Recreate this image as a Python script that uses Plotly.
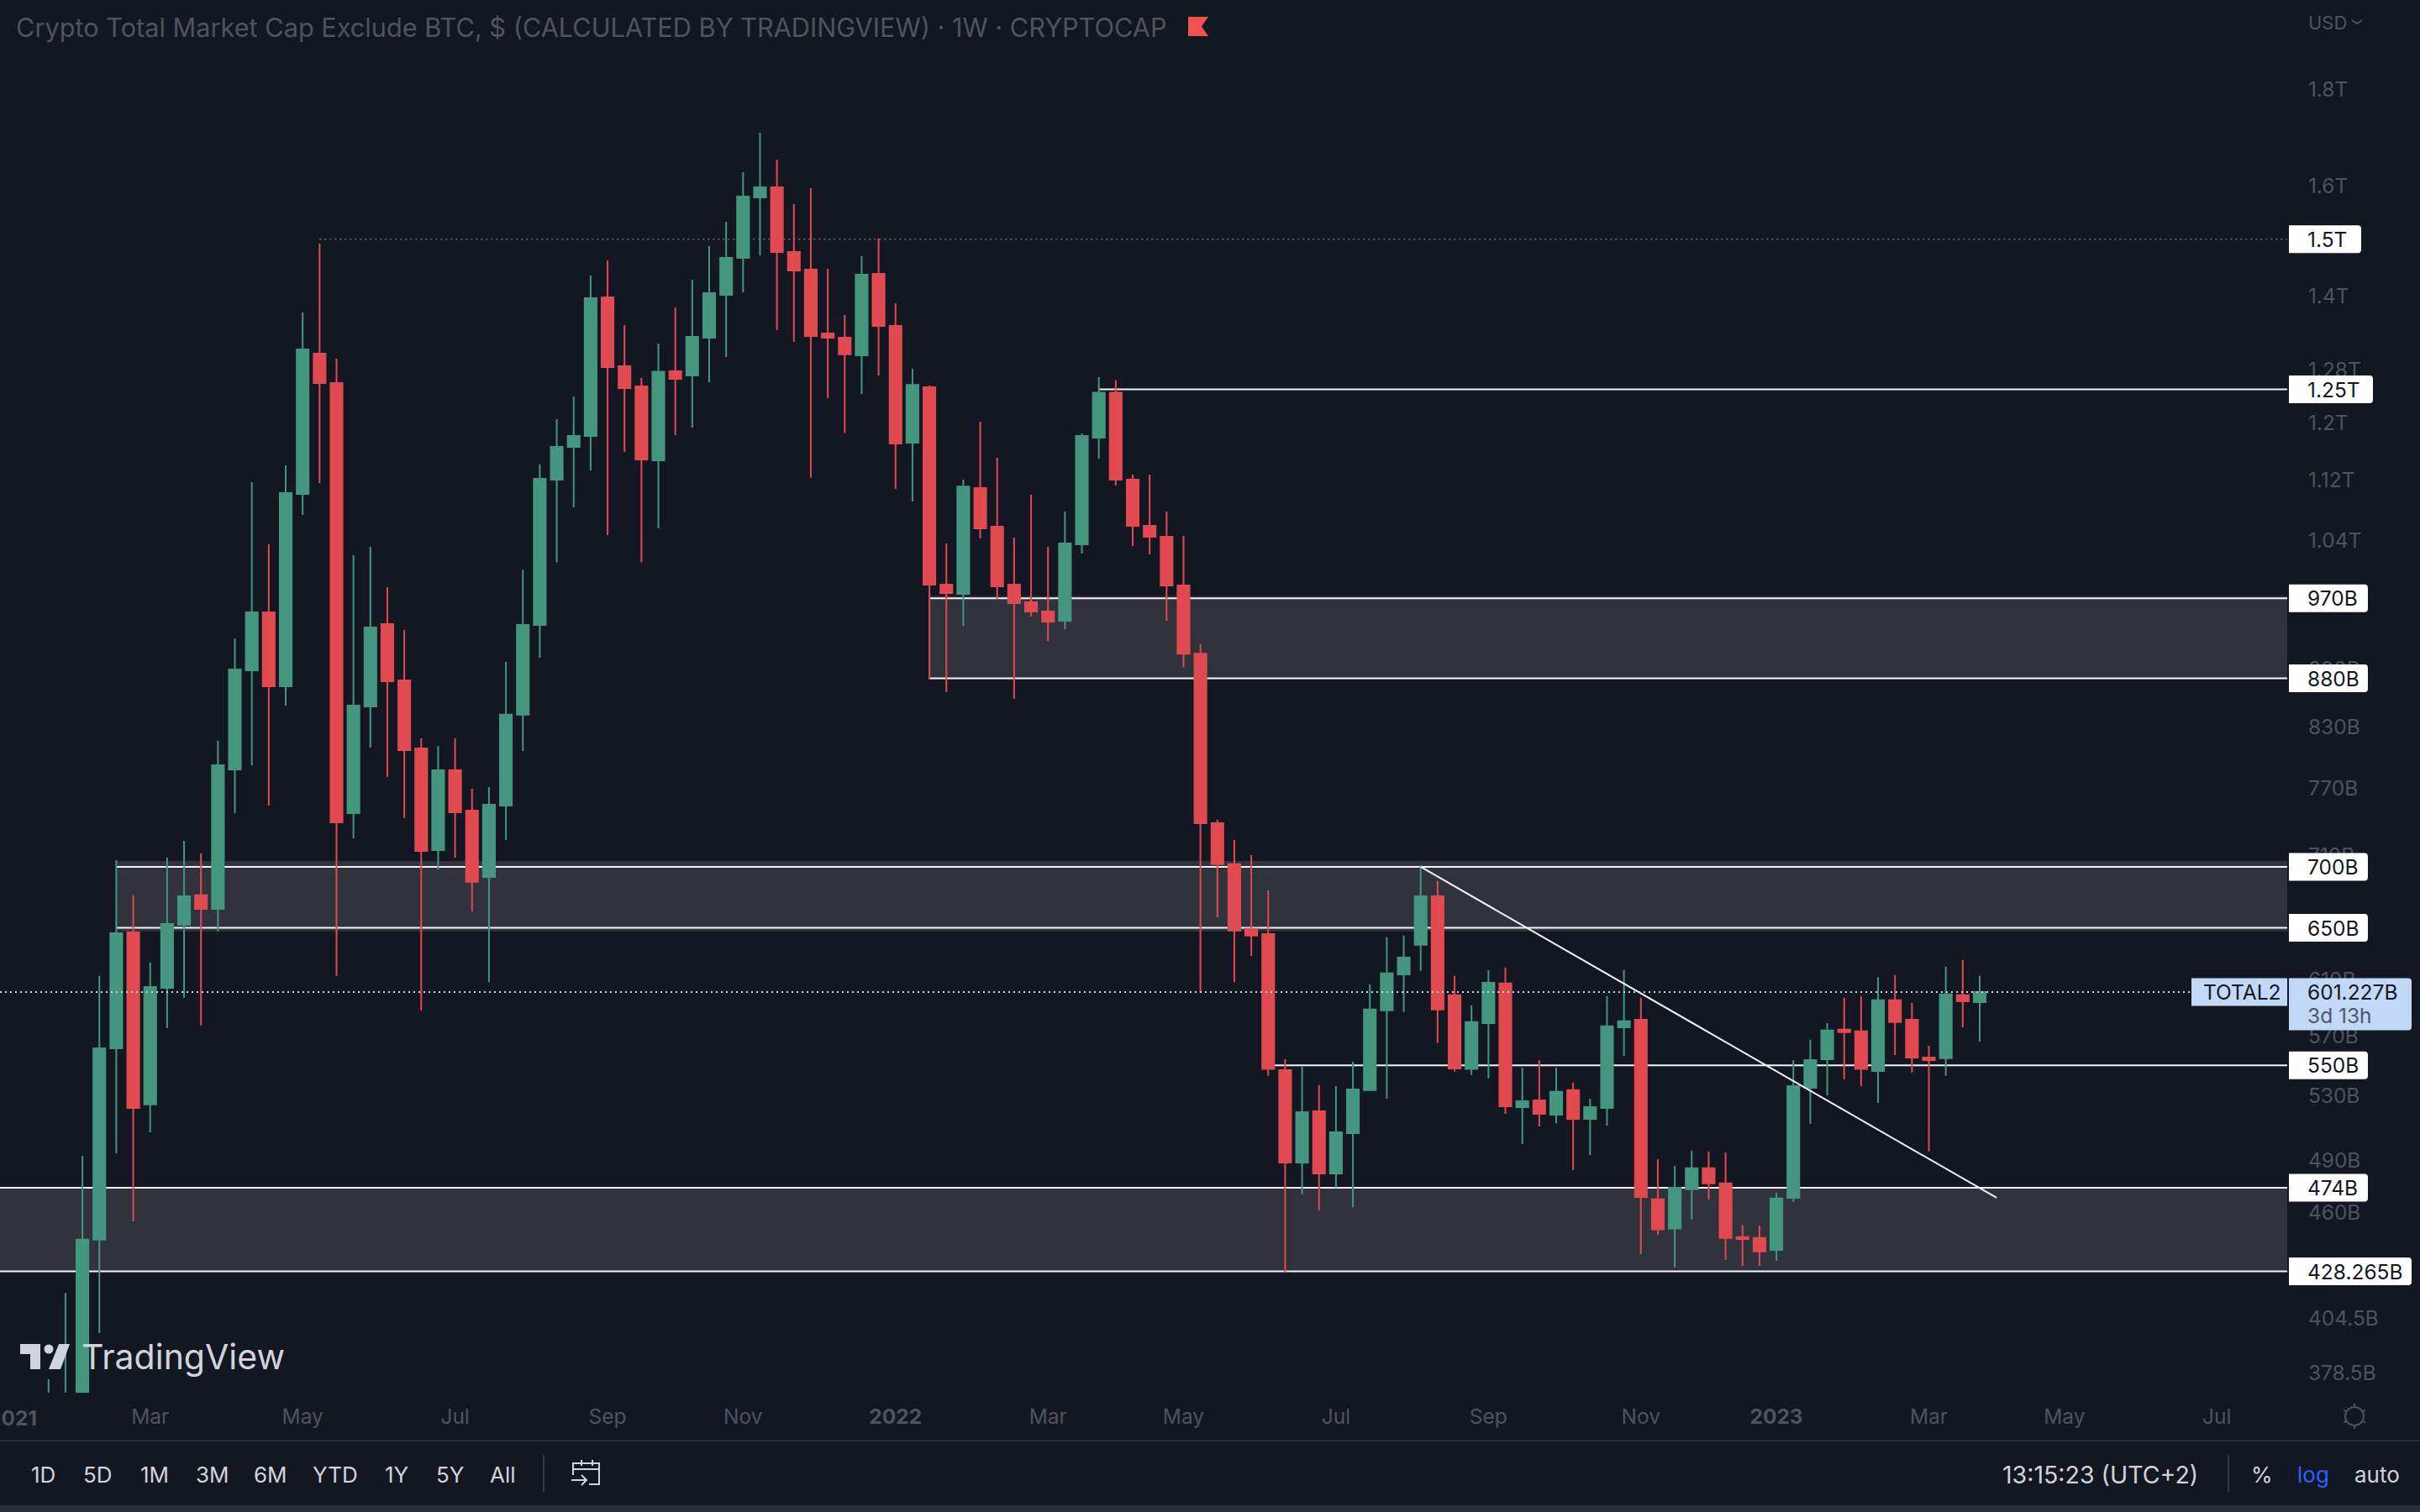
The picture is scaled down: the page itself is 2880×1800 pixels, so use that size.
import numpy as np
import pandas as pd
import plotly.graph_objects as go

W, H = 2880, 1800
PANE_RIGHT = 2722
PANE_BOTTOM = 1658

BG = "#131722"
UP = "#44967f"
DOWN = "#e04a50"
ZONE = "#30333c"
DIM = "#50535e"
SOFT = "#d1d4dc"
BLUE = "#c2d8f7"

# weekly candles in billions of USD, oldest first
opens = [345, 350, 368, 445.1, 561.6, 646.5, 524.5, 604.4, 652.5, 676.2, 665.2, 787.9, 888.7, 953.5, 871.7, 1100.9,
         1305.4, 1259.7, 747.2, 850.5, 940.0, 877.9, 808.3, 714.4, 787.1, 749.5, 691.4, 754.1, 842.0, 939.0, 1120.2,
         1165.7, 1181.2, 1397.8, 1285.7, 1254.5, 1146.9, 1277.8, 1271.4, 1331.0, 1402.1, 1466.4, 1578.1, 1597.5,
         1476.9, 1445.6, 1337.8, 1331.0, 1302.8, 1438.3, 1350.1, 1171.7, 1253.3, 986.2, 975.2, 1108.7, 1058.0, 986.2,
         965.2, 954.5, 943.8, 1035.6, 1178.8, 1245.1, 1120.2, 1059.1, 1045.2, 985.1, 906.7, 738.1, 702.2, 649.2,
         645.1, 546.9, 488.8, 520.2, 482.4, 506.6, 533.7, 588.0, 614.3, 636.7, 675.4, 598.9, 547.6, 579.0, 607.5,
         522.8, 527.1, 518.1, 533.7, 515.4, 522.3, 576.1, 581.4, 467.4, 451.2, 473.2, 485.4, 476.6, 446.5, 446.0,
         439.6, 468.3, 535.3, 554.2, 574.4, 573.2, 546.3, 595.3, 581.4, 555.3, 554.8, 598.9, 594.0]
highs = [375.7, 417.2, 492.8, 613.1, 705.7, 676.2, 623.2, 707.9, 722.5, 711.5, 815.7, 923.8, 1116.9, 1035.6, 1139.8,
         1372.4, 1492.1, 1297.5, 1022.0, 1032.5, 983.1, 933.3, 818.2, 810.8, 818.2, 769.6, 771.2, 897.8, 1004.2,
         1140.9, 1205.6, 1239.3, 1435.3, 1461.9, 1351.4, 1267.4, 1321.6, 1380.8, 1428.0, 1487.5, 1532.1, 1627.3,
         1707.1, 1652.4, 1565.4, 1596.0, 1447.0, 1368.1, 1469.5, 1501.2, 1387.9, 1281.7, 1255.8, 1036.7, 1120.2,
         1201.9, 1150.4, 1044.1, 1099.8, 1032.5, 1077.6, 1184.9, 1268.7, 1264.0, 1127.2, 1127.2, 1077.6, 1046.2,
         917.5, 741.1, 723.2, 710.1, 680.3, 554.2, 549.2, 537.0, 536.4, 552.5, 606.9, 642.7, 643.9, 701.4, 688.0,
         613.1, 591.6, 617.5, 619.4, 548.5, 553.6, 548.5, 538.6, 528.2, 598.3, 617.5, 597.1, 490.8, 486.8, 495.9,
         495.4, 494.8, 453.0, 452.8, 471.2, 553.6, 567.4, 579.0, 597.1, 598.3, 612.3, 613.8, 593.4, 563.3, 620.1,
         625.2, 613.1]
lows = [340, 340, 350, 397.4, 494.3, 455.2, 507.1, 575.5, 597.1, 577.3, 647.2, 747.2, 791.9, 754.1, 851.4, 1073.1,
        1115.7, 613.1, 724.7, 809.1, 780.7, 742.6, 588.0, 697.8, 707.9, 663.2, 608.5, 723.2, 805.8, 902.3, 1013.2,
        1083.2, 1132.9, 1047.3, 1158.6, 1013.2, 1055.9, 1182.4, 1193.4, 1261.0, 1300.2, 1406.4, 1470.9, 1343.2,
        1324.2, 1123.2, 1236.8, 1185.6, 1243.1, 1271.4, 1107.7, 1091.0, 878.8, 865.4, 938.1, 1043.0, 969.1, 858.4,
        948.6, 920.7, 934.2, 1024.0, 1149.2, 1112.2, 1033.5, 1023.0, 943.8, 892.3, 600.7, 658.4, 608.5, 628.2,
        543.1, 427.7, 470.3, 461.2, 474.1, 462.9, 533.2, 528.2, 586.8, 617.0, 565.1, 545.8, 543.6, 541.4, 518.6,
        499.9, 510.7, 512.7, 484.3, 493.3, 511.2, 556.4, 437.4, 447.8, 430.4, 456.1, 467.4, 434.3, 431.2, 431.2,
        433.9, 465.9, 512.3, 530.4, 540.8, 536.4, 525.5, 557.0, 545.1, 495.4, 543.1, 576.1, 566.2]
closes = [362, 368, 445.1, 561.6, 645.8, 522.3, 605.0, 653.1, 675.4, 665.2, 791.9, 889.6, 953.5, 871.7, 1102.1,
          1312.2, 1259.7, 738.9, 851.4, 936.2, 877.0, 806.6, 713.7, 787.1, 747.9, 687.3, 754.9, 842.0, 939.0, 1121.4,
          1165.7, 1181.2, 1396.4, 1284.4, 1252.0, 1148.1, 1277.1, 1266.1, 1332.4, 1404.9, 1466.4, 1579.7, 1597.5,
          1476.9, 1444.1, 1333.7, 1331.0, 1304.3, 1436.8, 1350.1, 1170.5, 1256.9, 986.2, 976.2, 1110.8, 1055.9,
          984.1, 964.2, 954.5, 942.9, 1036.7, 1181.2, 1245.1, 1120.2, 1059.1, 1045.2, 985.1, 906.7, 738.1, 702.2,
          647.9, 643.9, 547.6, 488.8, 519.7, 482.4, 507.1, 534.2, 588.6, 615.0, 627.0, 675.4, 588.6, 548.0, 579.7,
          608.1, 523.4, 526.6, 518.6, 532.6, 515.4, 522.8, 576.7, 580.3, 468.8, 450.7, 474.1, 485.4, 476.6, 446.0,
          445.5, 438.8, 467.9, 536.4, 553.6, 573.8, 572.6, 547.6, 595.3, 579.7, 555.3, 553.6, 599.6, 594.6, 601.227]

dates = pd.date_range(end="2023-03-27", periods=len(closes), freq="7D")

price_ticks = [1800, 1600, 1400, 1280, 1200, 1120, 1040, 890, 830, 770, 710, 610, 570, 530, 490, 460, 404.5, 378.5]
price_tick_text = ["1.8T", "1.6T", "1.4T", "1.28T", "1.2T", "1.12T", "1.04T", "890B", "830B", "770B", "710B",
                   "610B", "570B", "530B", "490B", "460B", "404.5B", "378.5B"]

time_ticks = ["2021-03-01", "2021-05-03", "2021-07-05", "2021-09-06", "2021-11-01", "2022-01-03", "2022-03-07",
              "2022-05-02", "2022-07-04", "2022-09-05", "2022-11-07", "2023-01-02", "2023-03-06", "2023-05-01",
              "2023-07-03"]
time_tick_text = ["Mar", "May", "Jul", "Sep", "Nov", "<b>2022</b>", "Mar", "May", "Jul", "Sep", "Nov", "<b>2023</b>",
                  "Mar", "May", "Jul"]

# level, where the drawing starts, text on the price scale, right edge of its tag
levels = [(1250, "2022-03-28", "1.25T", 2824), (970, "2022-01-17", "970B", 2818), (880, "2022-01-17", "880B", 2818),
          (700, "2021-02-15", "700B", 2818), (650, "2021-02-15", "650B", 2818), (550, "2022-06-06", "550B", 2818),
          (474, "2020-12-01", "474B", 2818), (428.265, "2020-12-01", "428.265B", 2870)]
zones = [(972.6, 878.8, "2022-01-17"), (705.0, 647.2, "2021-02-15"), (474, 428.265, "2020-12-01")]

resistance_top = (1500, "2021-05-10")
trend_start = ("2022-08-08", 700)
trend_end = ("2023-04-03", 468.3)
last_price = 601.227

y_range = [np.log10(369.6), np.log10(2005.7)]
x_start = dates[-1] - pd.Timedelta(weeks=2356 / 20.16)
x_end = dates[-1] + pd.Timedelta(weeks=(PANE_RIGHT - 2356) / 20.16)
last_line_end = dates[-1] + pd.Timedelta(weeks=(2608 - 2356) / 20.16)


def fx(px):
    return px / W


def fy(px):
    return 1 - px / H


def pt(px, py):
    return f"{fx(px)} {fy(py)}"


def price_px(value):
    frac = (np.log10(value) - y_range[0]) / (y_range[1] - y_range[0])
    return PANE_BOTTOM * (1 - frac)


def label(x, y, text, size=24.5, color=SOFT, anchor="left"):
    return dict(xref="paper", yref="paper", x=fx(x), y=fy(y), text=text, showarrow=False, xanchor=anchor,
                yanchor="middle", align="left", font=dict(family="Inter", size=size, color=color))


def tag_path(x0, x1, yc, half=16.5, r=4):
    y0, y1 = yc - half, yc + half
    return (f"M {pt(x0, y0)} L {pt(x1 - r, y0)} Q {pt(x1, y0)} {pt(x1, y0 + r)} L {pt(x1, y1 - r)} "
            f"Q {pt(x1, y1)} {pt(x1 - r, y1)} L {pt(x0, y1)} Z")


def stroke(*points):
    return "M " + " L ".join(pt(px, py) for px, py in points)


shapes = []
annotations = []

for top, bottom, start in zones:
    shapes.append(dict(type="rect", xref="x", yref="y", x0=start, x1=x_end, y0=bottom, y1=top, fillcolor=ZONE,
                       line_width=0, layer="below"))
for value, start, text, right in levels:
    shapes.append(dict(type="line", xref="x", yref="y", x0=start, x1=x_end, y0=value, y1=value, layer="below",
                       line=dict(color="#f4f4f6", width=2)))
shapes.append(dict(type="line", xref="x", yref="y", x0=resistance_top[1], x1=x_end, y0=resistance_top[0],
                   y1=resistance_top[0], layer="below", line=dict(color="#5a5d68", width=2, dash="2px,4px")))

shapes.append(dict(type="line", xref="x", yref="y", x0=trend_start[0], y0=trend_start[1], x1=trend_end[0],
                   y1=trend_end[1], line=dict(color="#f4f4f6", width=2)))
shapes.append(dict(type="line", xref="x", yref="y", x0=x_start, x1=last_line_end, y0=last_price, y1=last_price,
                   line=dict(color=BLUE, width=2, dash="2px,4px")))

# tags on the price scale
for value, start, text, right in [(1500, "", "1.5T", 2810)] + levels:
    yc = price_px(value)
    shapes.append(dict(type="path", xref="paper", yref="paper", path=tag_path(2724, right, yc), fillcolor="#ffffff",
                       line_width=0))
    annotations.append(label(2744, yc, text, color="#131722"))

yc = price_px(last_price)
shapes.append(dict(type="path", xref="paper", yref="paper", path=tag_path(2724, 2870, yc + 14.5, half=31),
                   fillcolor=BLUE, line_width=0))
shapes.append(dict(type="path", xref="paper", yref="paper", path=tag_path(2608, 2722, yc, r=0), fillcolor=BLUE,
                   line_width=0))
annotations.append(label(2744, yc, "601.227B", color="#131722"))
annotations.append(label(2744, yc + 28, "3d 13h", color="#4c5769"))
annotations.append(label(2620, yc, "TOTAL2", color="#131722"))

# header
annotations.append(label(17, 33, "Crypto Total Market Cap Exclude BTC, $ (CALCULATED BY TRADINGVIEW) · 1W · CRYPTOCAP",
                         size=30.7, color=DIM))
shapes.append(dict(type="path", xref="paper", yref="paper", fillcolor="#ef5350", line_width=0,
                   path=stroke((1414, 20), (1438, 20), (1430, 31.5), (1438, 43), (1414, 43)) + " Z"))
annotations.append(label(2745, 27, "USD", size=22, color=DIM))
shapes.append(dict(type="path", xref="paper", yref="paper", path=stroke((2799, 24), (2805, 28), (2811, 24)),
                   line=dict(color=DIM, width=2)))

# first year label sits half off the left edge
annotations.append(label(15, 1688, "<b>2021</b>", size=24.5, color=DIM, anchor="center"))

# watermark
shapes.append(dict(type="path", xref="paper", yref="paper", fillcolor=SOFT, line_width=0,
                   path=stroke((24, 1600), (48, 1600), (48, 1630), (36, 1630), (36, 1612), (24, 1612)) + " Z"))
shapes.append(dict(type="circle", xref="paper", yref="paper", x0=fx(52.5), x1=fx(63.5), y0=fy(1611.5), y1=fy(1600.5),
                   fillcolor=SOFT, line_width=0))
shapes.append(dict(type="path", xref="paper", yref="paper", fillcolor=SOFT, line_width=0,
                   path=stroke((70, 1600), (83, 1600), (72, 1630), (58, 1630)) + " Z"))
annotations.append(label(95, 1615, "TradingView", size=41, color=SOFT))

# bottom toolbar
for x, text in zip([52, 116, 184, 253, 322, 399, 472, 535, 598], ["1D", "5D", "1M", "3M", "6M", "YTD", "1Y", "5Y", "All"]):
    annotations.append(label(x, 1755, text, size=26, anchor="center"))
annotations.append(label(2618, 1755, "13:15:23 (UTC+2)", size=28.5, anchor="right"))
annotations.append(label(2692, 1755, "%", size=26, anchor="center"))
annotations.append(label(2753, 1755, "log", size=26, color="#2962ff", anchor="center"))
annotations.append(label(2829, 1755, "auto", size=26, anchor="center"))

for x in [647, 2652]:
    shapes.append(dict(type="line", xref="paper", yref="paper", x0=fx(x), x1=fx(x), y0=fy(1732), y1=fy(1776),
                       line=dict(color="#363a45", width=2)))
shapes.append(dict(type="line", xref="paper", yref="paper", x0=0, x1=1, y0=fy(1715), y1=fy(1715),
                   line=dict(color="#2a2e39", width=2)))
shapes.append(dict(type="rect", xref="paper", yref="paper", x0=0, x1=1, y0=fy(1800), y1=fy(1792),
                   fillcolor="#2a2e39", line_width=0))

# go-to-date icon
for pts in [[(682, 1756), (682, 1742), (713, 1742), (713, 1767), (701, 1767)], [(682, 1749), (713, 1749)],
            [(692, 1738), (692, 1745)], [(705, 1738), (705, 1745)], [(680, 1762), (698, 1762)],
            [(692, 1756), (698, 1762), (692, 1768)]]:
    shapes.append(dict(type="path", xref="paper", yref="paper", path=stroke(*pts), line=dict(color=SOFT, width=2)))

# settings icon
shapes.append(dict(type="circle", xref="paper", yref="paper", x0=fx(2791), x1=fx(2813), y0=fy(1697), y1=fy(1675),
                   line=dict(color=DIM, width=2)))
for a in np.arange(0, 360, 60) + 30:
    c, s = np.cos(np.radians(a)), np.sin(np.radians(a))
    shapes.append(dict(type="path", xref="paper", yref="paper", line=dict(color=DIM, width=2),
                       path=stroke((2802 + 11 * c, 1686 + 11 * s), (2802 + 15 * c, 1686 + 15 * s))))

fig = go.Figure(go.Candlestick(
    x=dates,
    open=opens,
    high=highs,
    low=lows,
    close=closes,
    whiskerwidth=0,
    increasing=dict(line=dict(color=UP, width=2), fillcolor=UP),
    decreasing=dict(line=dict(color=DOWN, width=2), fillcolor=DOWN),
    showlegend=False,
))

fig.update_layout(
    width=W,
    height=H,
    margin=dict(l=0, r=0, t=0, b=0),
    paper_bgcolor=BG,
    plot_bgcolor=BG,
    showlegend=False,
    boxgap=0.3,
    boxgroupgap=0,
    shapes=shapes,
    annotations=annotations,
    font=dict(family="Inter", size=24, color=DIM),
    xaxis=dict(
        domain=[0, PANE_RIGHT / W],
        range=[x_start, x_end],
        type="date",
        rangeslider=dict(visible=False),
        showgrid=False,
        zeroline=False,
        showline=False,
        tickmode="array",
        tickvals=time_ticks,
        ticktext=time_tick_text,
        ticks="outside",
        ticklen=7,
        tickcolor="rgba(0,0,0,0)",
        tickfont=dict(family="Inter", size=24.5, color=DIM),
    ),
    yaxis=dict(
        domain=[1 - PANE_BOTTOM / H, 1],
        type="log",
        range=y_range,
        side="right",
        showgrid=False,
        zeroline=False,
        showline=False,
        tickmode="array",
        tickvals=price_ticks,
        ticktext=price_tick_text,
        ticks="outside",
        ticklen=19,
        tickcolor="rgba(0,0,0,0)",
        tickfont=dict(family="Inter", size=24.5, color=DIM),
    ),
)

fig.write_html("out.html", config=dict(displayModeBar=False),
               post_script="document.body.style.margin='0';document.body.style.background='#131722';")
